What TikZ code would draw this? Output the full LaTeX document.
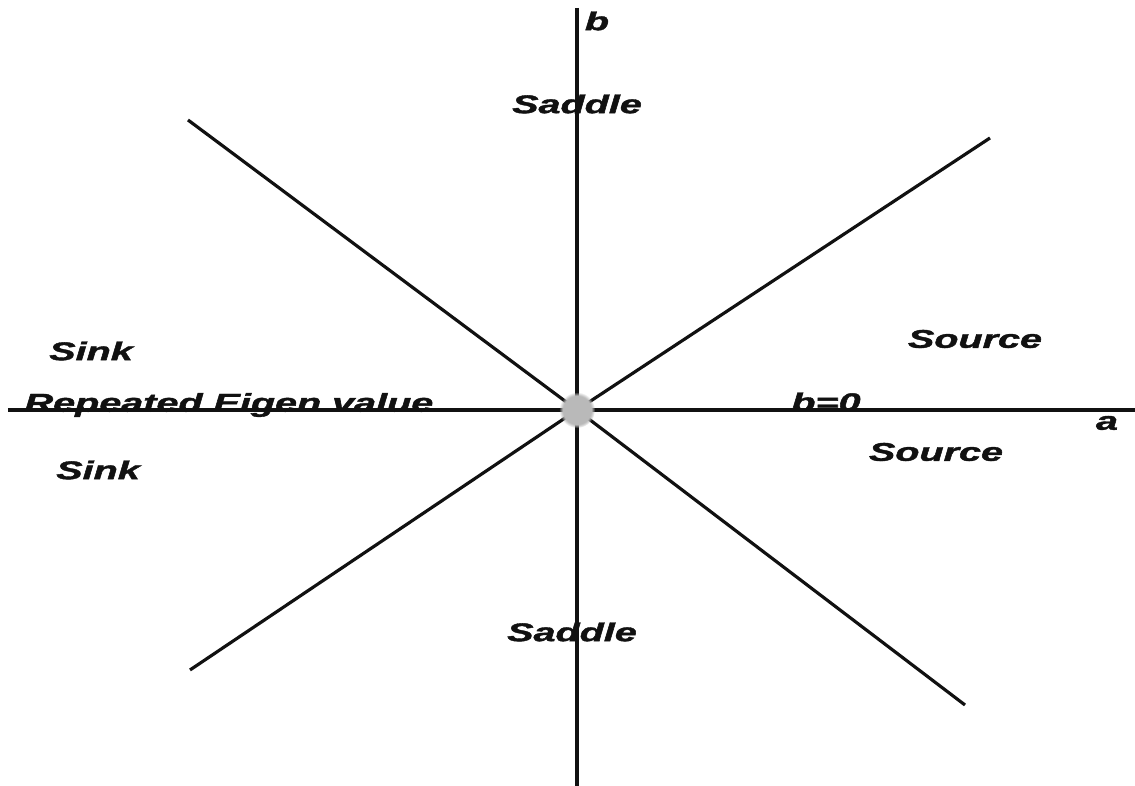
\documentclass[tikz,border=0pt]{standalone}
\usepackage{fontspec}
\setmainfont{Liberation Sans}
\newfontface\heavyfont{Liberation Sans Bold Italic}[FakeBold=1.4]
\usepackage{xcolor}
\usetikzlibrary{positioning, fadings}
\definecolor{kink}{HTML}{111111}

\begin{document}
\begin{tikzpicture}[x=0.01cm, y=-0.01cm,
    axisline/.style={draw=kink, line width=0.9pt},
    regionlbl/.style={font=\fontsize{7.3pt}{8pt}\heavyfont, text=kink,
      inner sep=0pt, xscale=1.54, transform shape}]

  \useasboundingbox (0,0) rectangle (1135,786);

  %% origin and line ends
  \coordinate (o) at (577,410);
  \coordinate (ntop) at (577,8);
  \coordinate (nbot) at (577,786);
  \coordinate (wleft) at (8,410);
  \coordinate (eright) at (1135,410);
  \coordinate (ul) at (188,120);
  \coordinate (lr) at (965,705);
  \coordinate (ur) at (990,138);
  \coordinate (ll) at (190,670);

  %% axes
  \draw[axisline] (ntop) -- (nbot);
  \draw[axisline] (wleft) -- (eright);

  %% diagonals
  \draw[axisline] (ul) -- (o) -- (lr);
  \draw[axisline] (ur) -- (o) -- (ll);

  %% blurred centre
  \fill[gray!55, path fading=circle with fuzzy edge 20 percent] (o) circle (18);

  %% labels
  \node[regionlbl] (blab) at (597,21) {b};
  \node[regionlbl] (alab) at (1107,423) {a};
  \node[regionlbl] (saddletop) at (577,104) {Saddle};
  \node[regionlbl] (saddlebot) at (572,632) {Saddle};
  \node[regionlbl] (sinktop) at (91,351) {Sink};
  \node[regionlbl] (repeated) at (229,405) {Repeated Eigen value};
  \node[regionlbl] (sinkbot) at (98,470) {Sink};
  \node[regionlbl] (sourcetop) at (975,339) {Source};
  \node[regionlbl] (bzero) at (826,402) {b=0};
  \node[regionlbl] (sourcebot) at (936,452) {Source};

\end{tikzpicture}
\end{document}
